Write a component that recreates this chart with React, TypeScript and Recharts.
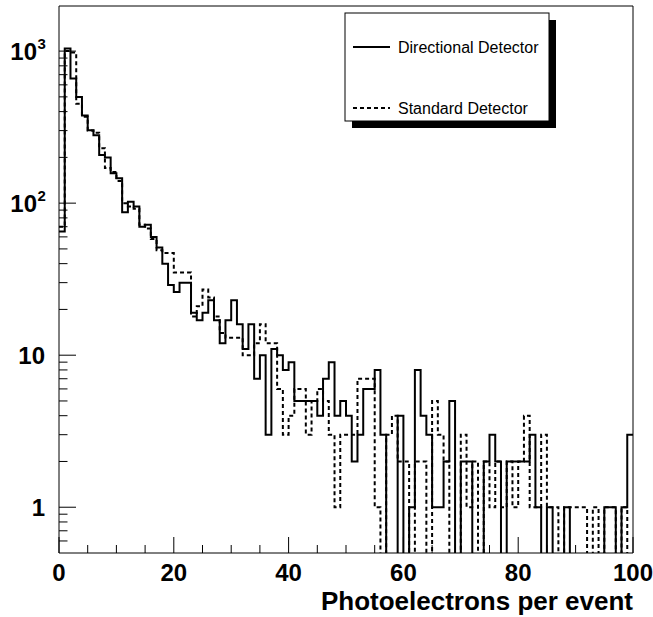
import React from 'react';
import { ComposedChart, Line, XAxis, YAxis, ReferenceLine } from 'recharts';

// Counts per 1-photoelectron bin, bins [0,1), [1,2), ... [99,100)
const directional = [
  65, 1040, 660, 500, 377, 302, 280, 207, 200, 157,
  146, 87, 102, 95, 70, 72, 60, 51, 40, 29,
  26, 30, 30, 19, 17, 19, 23, 17, 12, 17,
  23, 16, 11, 16, 7, 10, 3, 11, 10, 8,
  9, 5, 5, 5, 5, 4, 7, 9, 4, 5,
  4, 2, 3, 6, 6, 8, 3, 0, 0, 4,
  0, 1, 8, 4, 3, 1, 1, 2, 5, 0,
  2, 2, 0, 0, 2, 3, 2, 0, 2, 2,
  2, 2, 3, 1, 0, 1, 0, 0, 1, 0,
  0, 0, 0, 0, 0, 1, 1, 0, 1, 3,
];
const standard = [
  70, 1000, 980, 450, 370, 300, 290, 230, 170, 160,
  140, 100, 95, 92, 72, 68, 58, 49, 47, 47,
  35, 35, 35, 18, 21, 27, 24, 18, 14, 13,
  13, 13, 10, 10, 12, 16, 12, 12, 6, 3,
  4, 6, 6, 3, 5, 6, 5, 3, 1, 3,
  3, 3, 7, 7, 7, 1, 0, 3, 4, 2,
  2, 0, 2, 2, 0, 5, 3, 2, 0, 0,
  3, 1, 2, 0, 2, 1, 2, 1, 2, 1,
  2, 4, 1, 1, 3, 1, 1, 0, 1, 1,
  1, 1, 0, 1, 0, 1, 1, 0, 1, 0,
];
const seriesNames = ['Directional Detector', 'Standard Detector'];

const xTicks = [0, 5, 10, 15, 20, 25, 30, 35, 40, 45, 50, 55, 60, 65, 70, 75, 80, 85, 90, 95, 100];
const xLabelTicks = [0, 20, 40, 60, 80, 100];
const yMajor = [1, 10, 100, 1000];
const yMinor = [0.6, 0.7, 0.8, 0.9, 2, 3, 4, 5, 6, 7, 8, 9, 20, 30, 40, 50, 60, 70, 80, 90, 200, 300, 400, 500, 600, 700, 800, 900];
const X_MIN = 0;
const X_MAX = 100;
const Y_MIN = 0.5;
const Y_MAX = 1980;
const EMPTY_FLOOR = 0.2; // empty bins drop below the axis floor (log scale)

const rows = directional.map((v, i) => ({
  x: i,
  dir: Math.max(v, EMPTY_FLOOR),
  std: Math.max(standard[i], EMPTY_FLOOR),
}));
rows.push({ x: directional.length, dir: rows[rows.length - 1].dir, std: rows[rows.length - 1].std });

const FONT = "'Liberation Sans', Arial, Helvetica, sans-serif";

const YTick = (props: any) => {
  const { x, y, payload } = props;
  const v = payload.value;
  const major = yMajor.includes(v);
  const len = major ? 17 : 8.5;
  let label: any = null;
  if (major) {
    const exp = Math.round(Math.log10(v));
    if (exp <= 1) {
      label = (
        <text x={x - 14} y={y + 8.5} textAnchor="end" fontFamily={FONT} fontWeight="bold" fontSize={24} fill="#000">
          {String(v)}
        </text>
      );
    } else {
      label = (
        <g>
          <text x={x - 22} y={y + 8.5} textAnchor="end" fontFamily={FONT} fontWeight="bold" fontSize={24} fill="#000">
            10
          </text>
          <text x={x - 21.5} y={y - 2} textAnchor="start" fontFamily={FONT} fontWeight="bold" fontSize={15} fill="#000">
            {String(exp)}
          </text>
        </g>
      );
    }
  }
  return (
    <g>
      <line x1={x} x2={x + len} y1={y} y2={y} stroke="#000" strokeWidth={1} />
      {label}
    </g>
  );
};

const XTick = (props: any) => {
  const { x, y, payload } = props;
  const v = payload.value;
  const major = xLabelTicks.includes(v);
  const len = major ? 16 : 8;
  return (
    <g>
      <line x1={x} x2={x} y1={y} y2={y - len} stroke="#000" strokeWidth={1} />
      {major && (
        <text x={x} y={y + 28} textAnchor="middle" fontFamily={FONT} fontWeight="bold" fontSize={24} fill="#000">
          {String(v)}
        </text>
      )}
    </g>
  );
};

const XTitle = (props: any) => {
  const vb = props.viewBox || {};
  return (
    <text x={(vb.x || 0) + (vb.width || 0)} y={(vb.y || 0) + 57} textAnchor="end" fontFamily={FONT} fontWeight="bold" fontSize={26} fill="#000">
      Photoelectrons per event
    </text>
  );
};

const LegendBox = () => (
  <svg width={653} height={617} style={{ position: 'absolute', left: 0, top: 0, pointerEvents: 'none' }}>
    <rect x={352} y={20} width={204} height={108} fill="#000" />
    <rect x={345} y={13} width={204} height={108} fill="#fff" stroke="#000" strokeWidth={1} />
    <line x1={353} x2={390} y1={47} y2={47} stroke="#000" strokeWidth={2} />
    <text x={398} y={47} dominantBaseline="central" fontFamily={FONT} fontSize={16} fill="#000">{seriesNames[0]}</text>
    <line x1={353} x2={390} y1={108} y2={108} stroke="#000" strokeWidth={2} strokeDasharray="4 3" />
    <text x={398} y={108} dominantBaseline="central" fontFamily={FONT} fontSize={16} fill="#000">{seriesNames[1]}</text>
  </svg>
);

export default function App() {
  return (
    <div style={{ position: 'absolute', left: 0, top: 0, width: 653, height: 617, background: '#fff' }}>
      <ComposedChart width={653} height={617} data={rows} margin={{ top: 6, right: 20, left: 0, bottom: 0 }}>
        <XAxis
          dataKey="x"
          type="number"
          domain={[X_MIN, X_MAX]}
          ticks={xTicks}
          interval={0}
          allowDataOverflow
          height={64}
          tickSize={0}
          tickMargin={0}
          tick={<XTick />}
          tickLine={false}
          axisLine={{ stroke: '#000', strokeWidth: 1 }}
          label={<XTitle />}
        />
        <YAxis
          type="number"
          scale="log"
          domain={[Y_MIN, Y_MAX]}
          ticks={[...yMinor, ...yMajor].sort((a, b) => a - b)}
          interval={0}
          allowDataOverflow
          width={59}
          tickSize={0}
          tickMargin={0}
          tick={<YTick />}
          tickLine={false}
          axisLine={{ stroke: '#000', strokeWidth: 1 }}
        />
        <ReferenceLine x={X_MAX} stroke="#000" strokeWidth={1} />
        <ReferenceLine y={Y_MAX} stroke="#000" strokeWidth={1} />
        <Line dataKey="std" name={seriesNames[1]} type="stepAfter" stroke="#000" strokeWidth={2} strokeDasharray="4 3" dot={false} isAnimationActive={false} />
        <Line dataKey="dir" name={seriesNames[0]} type="stepAfter" stroke="#000" strokeWidth={2} dot={false} isAnimationActive={false} />
      </ComposedChart>
      <LegendBox />
    </div>
  );
}
